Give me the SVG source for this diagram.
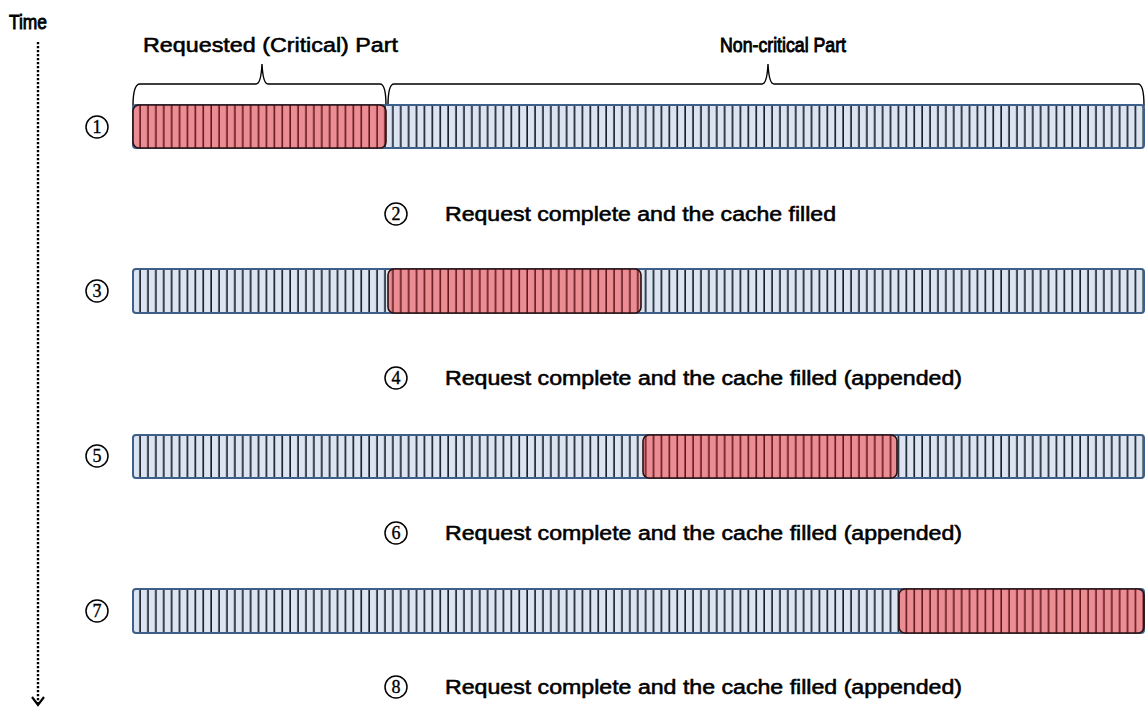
<svg xmlns="http://www.w3.org/2000/svg" width="1146" height="711" viewBox="0 0 1146 711">
<style>
.t{font-family:"Liberation Sans",Arial,sans-serif;font-size:20px;fill:#000;stroke:#000;stroke-width:0.55}
.tc{stroke-width:0.9}
.num{font-family:"Liberation Serif","Times New Roman",serif;font-size:18px;fill:#000;stroke:#000;stroke-width:0.35;text-anchor:middle}
.circ{fill:#fff;stroke:#000;stroke-width:1.5}
.bar{fill:url(#blueStripe);stroke:#3e5f8a;stroke-width:2}
.red{fill:url(#redStripe);stroke:#2a1010;stroke-width:1.6}
.brace{fill:none;stroke:#000;stroke-width:1.4}
</style>
<defs>
<pattern id="blueStripe" patternUnits="userSpaceOnUse" x="133" y="0" width="7.9" height="20">
<rect width="7.9" height="20" fill="#dbe4f0"/>
<line x1="7.1" y1="0" x2="7.1" y2="20" stroke="#16202e" stroke-width="1.7"/>
</pattern>
<pattern id="redStripe" patternUnits="userSpaceOnUse" x="133" y="0" width="7.9" height="20">
<rect width="7.9" height="20" fill="#ec8c93"/>
<line x1="7.1" y1="0" x2="7.1" y2="20" stroke="#5a1018" stroke-width="1.5"/>
</pattern>
</defs>
<rect width="1146" height="711" fill="#fff"/>

<g id="time-axis">
<text class="t tc" x="9" y="29" textLength="38" lengthAdjust="spacingAndGlyphs">Time</text>
<line x1="38" y1="42" x2="38" y2="703" stroke="#000" stroke-width="2.4" stroke-dasharray="2.2,1.8"/>
<polyline points="32,697 38,705 44,697" fill="none" stroke="#000" stroke-width="2.2"/>
</g>

<g id="header">
<text class="t" x="143" y="52" textLength="255" lengthAdjust="spacingAndGlyphs">Requested (Critical) Part</text>
<text class="t tc" x="720" y="52" textLength="126" lengthAdjust="spacingAndGlyphs">Non-critical Part</text>
<path class="brace" d="M133,106 Q133,84 140,84 L256,84 Q261,84 262,64 Q263,84 268,84 L380,84 Q386,84 386,106"/>
<path class="brace" d="M388,106 Q388,84 394,84 L762,84 Q767,84 768,64 Q769,84 774,84 L1138,84 Q1144,84 1144,106"/>
</g>

<g id="row1">
<circle class="circ" cx="97" cy="127" r="11"/><text class="num" x="97" y="133">1</text>
<rect class="bar" x="133" y="105" width="1011" height="43" rx="3"/>
<rect class="red" x="133" y="105" width="253" height="43" rx="6"/>
</g>

<g id="step2">
<circle class="circ" cx="396" cy="214" r="11"/><text class="num" x="396" y="220">2</text>
<text class="t" x="445" y="221" textLength="391" lengthAdjust="spacingAndGlyphs">Request complete and the cache filled</text>
</g>

<g id="row3">
<circle class="circ" cx="97" cy="291" r="11"/><text class="num" x="97" y="297">3</text>
<rect class="bar" x="133" y="269" width="1011" height="44" rx="3"/>
<rect class="red" x="388" y="269" width="253" height="44" rx="6"/>
</g>

<g id="step4">
<circle class="circ" cx="396" cy="378" r="11"/><text class="num" x="396" y="384">4</text>
<text class="t" x="445" y="385" textLength="517" lengthAdjust="spacingAndGlyphs">Request complete and the cache filled (appended)</text>
</g>

<g id="row5">
<circle class="circ" cx="97" cy="456" r="11"/><text class="num" x="97" y="462">5</text>
<rect class="bar" x="133" y="435" width="1011" height="43" rx="3"/>
<rect class="red" x="643" y="435" width="254" height="43" rx="6"/>
</g>

<g id="step6">
<circle class="circ" cx="396" cy="533" r="11"/><text class="num" x="396" y="539">6</text>
<text class="t" x="445" y="540" textLength="517" lengthAdjust="spacingAndGlyphs">Request complete and the cache filled (appended)</text>
</g>

<g id="row7">
<circle class="circ" cx="97" cy="611" r="11"/><text class="num" x="97" y="617">7</text>
<rect class="bar" x="133" y="589" width="1011" height="44" rx="3"/>
<rect class="red" x="899" y="589" width="245" height="44" rx="6"/>
</g>

<g id="step8">
<circle class="circ" cx="396" cy="687" r="11"/><text class="num" x="396" y="693">8</text>
<text class="t" x="445" y="694" textLength="517" lengthAdjust="spacingAndGlyphs">Request complete and the cache filled (appended)</text>
</g>
</svg>
